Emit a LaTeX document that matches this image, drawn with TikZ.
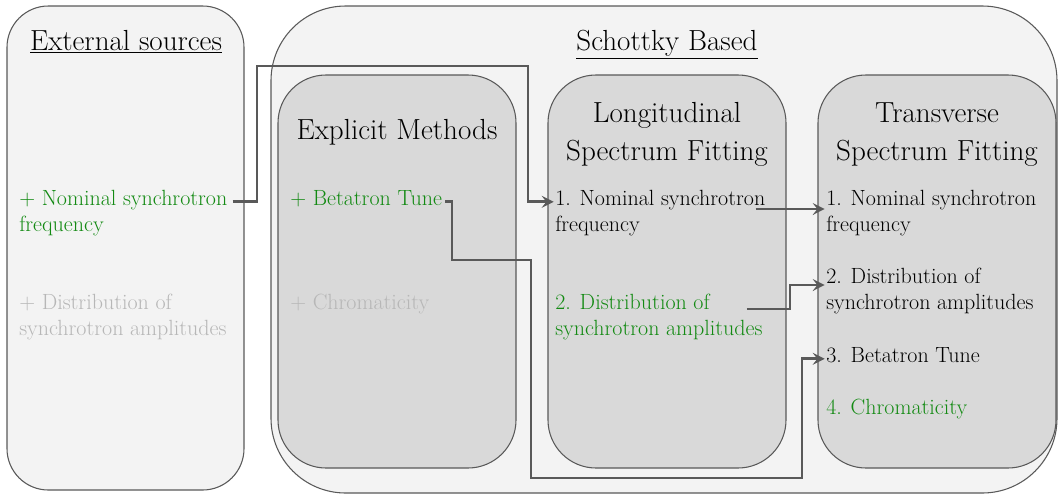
\documentclass[tikz,border=0pt]{standalone}
\usepackage{tikz}
\usetikzlibrary{arrows.meta, calc}

\definecolor{edge}{HTML}{595959}
\definecolor{paleback}{HTML}{F3F3F3}
\definecolor{darkback}{HTML}{D9D9D9}
\definecolor{okgreen}{HTML}{138A13}
\definecolor{faded}{HTML}{B7B7B7}

\begin{document}
\begin{tikzpicture}[
        x=0.75pt, y=-0.75pt,
        outerbox/.style={draw=edge, line width=0.8pt, fill=paleback},
        innerbox/.style={draw=edge, line width=0.8pt, fill=darkback, rounded corners=36pt},
        heading/.style={font=\fontsize{21.8}{28}\selectfont, align=center, inner sep=0pt},
        item/.style={font=\fontsize{16.5}{19.5}\selectfont, anchor=base west, inner sep=0pt,
                     text height=0.7em, text depth=0.22em},
        conn/.style={draw=edge, line width=2.2pt,
                     -{Stealth[length=9pt, width=9pt, inset=3.5pt]}, shorten >=1pt}
      ]
      \useasboundingbox (0,0) rectangle (1058,494);
      % boxes
      \draw[outerbox, rounded corners=31pt] (7,6) rectangle (244,490);
      \draw[outerbox, rounded corners=56pt] (271,6) rectangle (1057,493);
      \draw[innerbox] (278,75) rectangle (516,468);
      \draw[innerbox] (548,75) rectangle (786,468);
      \draw[innerbox] (818,75) rectangle (1056,468);

      % headings
      \node[heading, anchor=base] (exthead) at (126,50) {\underline{External sources}};
      \node[heading, anchor=base] (schhead) at (667,50) {\underline{Schottky Based}};
      \node[heading, anchor=base] (exphead) at (397,139) {Explicit Methods};
      \node[heading, anchor=base] (lonhead) at (667,160) {Longitudinal\\Spectrum Fitting};
      \node[heading, anchor=base] (trahead) at (937,160) {Transverse\\Spectrum Fitting};

      % external sources
      \node[item, okgreen] (ext1a) at (19,205) {+ Nominal synchrotron};
      \node[item, okgreen] (ext1b) at (19,231) {frequency};
      \node[item, faded] (ext2a) at (19,309) {+ Distribution of};
      \node[item, faded] (ext2b) at (19,335) {synchrotron amplitudes};

      % explicit methods
      \node[item, okgreen] (exp1) at (290,205) {+ Betatron Tune};
      \node[item, faded] (exp2) at (290,309) {+ Chromaticity};

      % longitudinal
      \node[item] (lon1a) at (555,205) {1. Nominal synchrotron};
      \node[item] (lon1b) at (555,231) {frequency};
      \node[item, okgreen] (lon2a) at (555,309) {2. Distribution of};
      \node[item, okgreen] (lon2b) at (555,335) {synchrotron amplitudes};

      % transverse
      \node[item] (tra1a) at (826,205) {1. Nominal synchrotron};
      \node[item] (tra1b) at (826,231) {frequency};
      \node[item] (tra2a) at (826,283) {2. Distribution of};
      \node[item] (tra2b) at (826,309) {synchrotron amplitudes};
      \node[item] (tra3) at (826,362) {3. Betatron Tune};
      \node[item, okgreen] (tra4) at (826,414) {4. Chromaticity};

      % connectors
      \draw[conn] ($(ext1a.east)+(5,0)$) -| (257,66) -| ($(lon1a.west)+(-27,0)$) -- (lon1a.west);
      \draw[conn] ($(exp1.east)+(3,0)$) -| (452,260) -| (531,478) -| ($(tra3.west)+(-24,0)$) -- (tra3.west);
      \draw[conn] ($(lon1a.base east)+(-10,4)$) coordinate (l1) -- (l1 -| tra1a.west);
      \draw[conn] ($(lon2a.base east)+(37,0)$) -| ($(tra2a.base west)+(-36,2)$) -- ($(tra2a.base west)+(0,2)$);
    \end{tikzpicture}
\end{document}
